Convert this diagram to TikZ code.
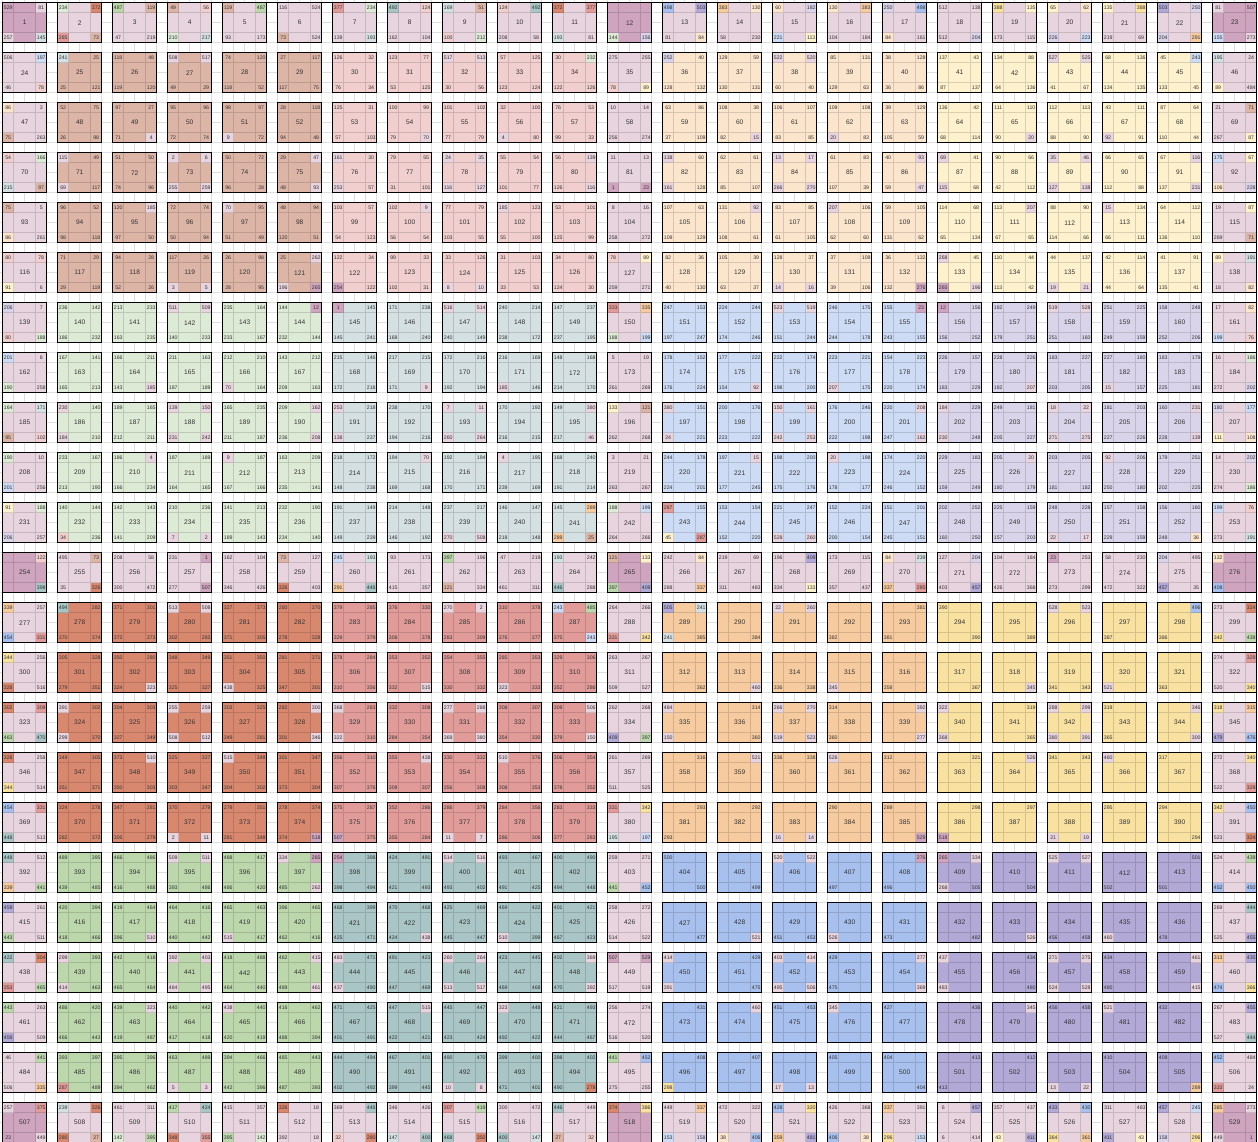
\documentclass[tikz,border=0pt]{standalone}
\usepackage{fontspec}
\setmainfont{Liberation Sans}
\definecolor{regP}{HTML}{E8D4DE}
\definecolor{regM}{HTML}{CFA4BF}
\definecolor{R00}{HTML}{DDB5A7}
\definecolor{R01}{HTML}{F0CFCE}
\definecolor{R02}{HTML}{FCE5CD}
\definecolor{R03}{HTML}{FEF2CE}
\definecolor{R10}{HTML}{DDEAD5}
\definecolor{R11}{HTML}{D5E0E3}
\definecolor{R12}{HTML}{CEDBF5}
\definecolor{R13}{HTML}{DAD4EA}
\definecolor{R20}{HTML}{D98870}
\definecolor{R21}{HTML}{E19C9A}
\definecolor{R22}{HTML}{F6CB9F}
\definecolor{R23}{HTML}{F9E1A1}
\definecolor{R30}{HTML}{BDD7AD}
\definecolor{R31}{HTML}{A9C5C6}
\definecolor{R32}{HTML}{A8C0EE}
\definecolor{R33}{HTML}{B2A9D6}
\tikzset{
  bggrid/.style={draw=black!13, line width=0.5pt},
  innerline/.style={draw=black, draw opacity=0.14, line width=0.6pt},
  boxline/.style={draw=black, line width=1.1pt},
  centernum/.style={inner sep=0pt, font=\fontsize{6.6}{7}\selectfont, text=black!80},
  cornum/.style={inner sep=0pt, font=\fontsize{5.2}{6}\selectfont, text=black!80},
}
\newcommand\D[5]{\expandafter\def\csname cd-#1\endcsname{{#2}{#3}{#4}{#5}}}
\newcommand\grp[1]{\ifcase\numexpr#1\relax 9\or 0\or 0\or 0\or 0\or 0\or 1\or 1\or 1\or 1\or 1\or 9\or 2\or 2\or 2\or 2\or 2\or 3\or 3\or 3\or 3\or 3\or 9\else 9\fi}
\newcommand\getcol[1]{%
  \pgfmathtruncatemacro\qr{div(#1-1,23)}%
  \pgfmathtruncatemacro\qc{mod(#1-1,23)}%
  \edef\gr{\grp{\qr}}\edef\gc{\grp{\qc}}%
  \ifnum\gr=9 \ifnum\gc=9 \def\result{regM}\else\def\result{regP}\fi
  \else\ifnum\gc=9 \def\result{regP}\else\edef\result{R\gr\gc}\fi\fi}
\def\getcorners#1#2#3#4{\def\ctl{#1}\def\ctr{#2}\def\cbl{#3}\def\cbr{#4}}
\newcommand\cornerfill[3]{\ifx#1\empty\else\getcol{#1}\fill[\result] (#2,#3) rectangle ++(11,10);\fi}
\newcommand\cornertext[4]{\ifx#1\empty\else\node[cornum] (#4) at (#2,#3) {#1};\fi}
\newcommand\drawcell[1]{%
  \pgfmathtruncatemacro\cellr{div(#1-1,23)}%
  \pgfmathtruncatemacro\cellc{mod(#1-1,23)}%
  \getcol{#1}\let\bgcol\result
  \expandafter\expandafter\expandafter\getcorners\csname cd-#1\endcsname
  \begin{scope}[shift={(2.7+55*\cellc,2.7+50*\cellr)}]
    \fill[\bgcol] (0,0) rectangle (44,40);
    \cornerfill{\ctl}{0}{0}
    \cornerfill{\ctr}{33}{0}
    \cornerfill{\cbl}{0}{30}
    \cornerfill{\cbr}{33}{30}
    \draw[innerline] (11,0)--(11,40) (33,0)--(33,40) (0,10)--(44,10) (0,30)--(44,30);
    \draw[boxline] (0,0) rectangle (44,40);
    \node[centernum] (n#1) at (22,20) {#1};
    \cornertext{\ctl}{5.5}{5}{n#1tl}
    \cornertext{\ctr}{38.5}{5}{n#1tr}
    \cornertext{\cbl}{5.5}{35}{n#1bl}
    \cornertext{\cbr}{38.5}{35}{n#1br}
  \end{scope}}
% data: n, top-left, top-right, bottom-left, bottom-right
\D{1}{529}{81}{257}{145}
\D{2}{234}{372}{285}{73}
\D{3}{487}{119}{47}{219}
\D{4}{49}{56}{210}{217}
\D{5}{119}{487}{93}{173}
\D{6}{116}{524}{73}{524}
\D{7}{377}{234}{139}{193}
\D{8}{492}{124}{162}{104}
\D{9}{169}{51}{100}{212}
\D{10}{124}{492}{208}{58}
\D{11}{372}{377}{193}{81}
\D{12}{}{}{144}{156}
\D{13}{498}{503}{81}{84}
\D{14}{383}{130}{58}{230}
\D{15}{60}{182}{221}{113}
\D{16}{130}{383}{104}{184}
\D{17}{250}{498}{84}{161}
\D{18}{512}{138}{512}{204}
\D{19}{388}{135}{173}{115}
\D{20}{65}{62}{226}{223}
\D{21}{135}{388}{219}{69}
\D{22}{503}{250}{204}{291}
\D{23}{81}{507}{155}{273}
\D{24}{506}{197}{46}{78}
\D{25}{241}{25}{25}{121}
\D{26}{118}{48}{119}{120}
\D{27}{508}{517}{49}{29}
\D{28}{74}{120}{118}{52}
\D{29}{27}{117}{117}{75}
\D{30}{126}{32}{76}{34}
\D{31}{123}{77}{53}{125}
\D{32}{517}{513}{30}{56}
\D{33}{57}{125}{123}{124}
\D{34}{30}{232}{122}{126}
\D{35}{275}{255}{78}{89}
\D{36}{252}{40}{128}{132}
\D{37}{129}{59}{130}{131}
\D{38}{522}{520}{60}{40}
\D{39}{85}{131}{129}{63}
\D{40}{38}{128}{36}{86}
\D{41}{137}{43}{87}{137}
\D{42}{134}{88}{64}{136}
\D{43}{527}{525}{41}{67}
\D{44}{68}{136}{134}{135}
\D{45}{45}{243}{133}{45}
\D{46}{195}{24}{89}{484}
\D{47}{86}{3}{75}{263}
\D{48}{52}{75}{26}{98}
\D{49}{97}{27}{71}{4}
\D{50}{95}{96}{72}{74}
\D{51}{98}{97}{9}{72}
\D{52}{28}{118}{94}{48}
\D{53}{125}{31}{57}{103}
\D{54}{100}{99}{79}{70}
\D{55}{101}{102}{77}{79}
\D{56}{32}{100}{4}{80}
\D{57}{76}{53}{99}{33}
\D{58}{10}{14}{256}{274}
\D{59}{63}{86}{37}{109}
\D{60}{108}{38}{82}{15}
\D{61}{106}{107}{83}{85}
\D{62}{109}{108}{20}{83}
\D{63}{39}{129}{105}{59}
\D{64}{136}{42}{68}{114}
\D{65}{111}{110}{90}{20}
\D{66}{112}{113}{88}{90}
\D{67}{43}{111}{92}{91}
\D{68}{87}{64}{110}{44}
\D{69}{21}{71}{267}{87}
\D{70}{54}{166}{215}{97}
\D{71}{115}{49}{69}{117}
\D{72}{51}{50}{74}{96}
\D{73}{2}{6}{255}{259}
\D{74}{50}{72}{96}{28}
\D{75}{29}{47}{48}{93}
\D{76}{161}{30}{253}{57}
\D{77}{79}{55}{31}{101}
\D{78}{24}{35}{116}{127}
\D{79}{55}{54}{101}{77}
\D{80}{56}{139}{126}{116}
\D{81}{11}{13}{1}{23}
\D{82}{138}{60}{161}{128}
\D{83}{62}{61}{85}{107}
\D{84}{13}{17}{266}{270}
\D{85}{61}{83}{107}{39}
\D{86}{40}{93}{59}{47}
\D{87}{69}{41}{115}{68}
\D{88}{90}{66}{42}{112}
\D{89}{35}{46}{127}{138}
\D{90}{66}{65}{112}{88}
\D{91}{67}{116}{137}{231}
\D{92}{175}{67}{106}{228}
\D{93}{75}{5}{86}{261}
\D{94}{96}{52}{98}{118}
\D{95}{120}{185}{97}{50}
\D{96}{72}{74}{50}{94}
\D{97}{70}{95}{51}{49}
\D{98}{48}{94}{120}{51}
\D{99}{103}{57}{54}{123}
\D{100}{102}{9}{56}{54}
\D{101}{77}{79}{103}{55}
\D{102}{185}{123}{55}{100}
\D{103}{53}{101}{125}{99}
\D{104}{8}{16}{258}{272}
\D{105}{107}{63}{109}{129}
\D{106}{131}{92}{108}{61}
\D{107}{83}{85}{61}{105}
\D{108}{207}{106}{62}{60}
\D{109}{59}{105}{131}{62}
\D{110}{114}{68}{65}{134}
\D{111}{113}{207}{67}{65}
\D{112}{88}{90}{114}{66}
\D{113}{15}{134}{66}{111}
\D{114}{64}{112}{136}{110}
\D{115}{19}{87}{269}{71}
\D{116}{80}{78}{91}{6}
\D{117}{71}{29}{29}{119}
\D{118}{94}{28}{52}{26}
\D{119}{117}{26}{3}{5}
\D{120}{26}{98}{28}{95}
\D{121}{25}{262}{196}{265}
\D{122}{122}{34}{254}{122}
\D{123}{99}{33}{102}{31}
\D{124}{33}{126}{8}{10}
\D{125}{31}{103}{33}{53}
\D{126}{34}{80}{124}{30}
\D{127}{78}{89}{259}{271}
\D{128}{82}{36}{40}{130}
\D{129}{105}{39}{63}{37}
\D{130}{128}{37}{14}{16}
\D{131}{37}{109}{39}{106}
\D{132}{36}{132}{132}{276}
\D{133}{268}{45}{265}{196}
\D{134}{110}{44}{113}{42}
\D{135}{44}{137}{19}{21}
\D{136}{42}{114}{44}{64}
\D{137}{41}{91}{135}{41}
\D{138}{89}{191}{18}{82}
\D{139}{206}{7}{80}{188}
\D{140}{236}{142}{186}{232}
\D{141}{213}{233}{163}{235}
\D{142}{511}{509}{140}{233}
\D{143}{235}{164}{233}{167}
\D{144}{144}{12}{232}{144}
\D{145}{1}{145}{145}{241}
\D{146}{171}{238}{168}{240}
\D{147}{516}{514}{240}{149}
\D{148}{240}{214}{238}{172}
\D{149}{147}{237}{237}{195}
\D{150}{333}{335}{188}{199}
\D{151}{247}{153}{197}{247}
\D{152}{224}{244}{174}{246}
\D{153}{523}{519}{151}{244}
\D{154}{246}{175}{244}{178}
\D{155}{155}{23}{243}{155}
\D{156}{12}{156}{156}{252}
\D{157}{182}{249}{179}{251}
\D{158}{519}{528}{251}{160}
\D{159}{251}{225}{249}{159}
\D{160}{158}{248}{252}{206}
\D{161}{17}{82}{199}{76}
\D{162}{201}{8}{190}{258}
\D{163}{167}{141}{165}{213}
\D{164}{166}{211}{143}{185}
\D{165}{211}{163}{187}{189}
\D{166}{212}{210}{70}{164}
\D{167}{143}{212}{209}{163}
\D{168}{215}{146}{172}{218}
\D{169}{217}{215}{171}{9}
\D{170}{172}{216}{192}{194}
\D{171}{216}{169}{185}{146}
\D{172}{148}{168}{214}{170}
\D{173}{5}{19}{261}{269}
\D{174}{178}{152}{176}{224}
\D{175}{177}{222}{154}{92}
\D{176}{222}{174}{198}{200}
\D{177}{223}{221}{207}{175}
\D{178}{154}{223}{220}{174}
\D{179}{226}{157}{183}{229}
\D{180}{228}{226}{182}{207}
\D{181}{183}{227}{203}{205}
\D{182}{227}{180}{15}{157}
\D{183}{183}{179}{225}{181}
\D{184}{16}{186}{272}{202}
\D{185}{164}{171}{95}{102}
\D{186}{230}{140}{184}{210}
\D{187}{189}{165}{212}{211}
\D{188}{139}{150}{231}{242}
\D{189}{165}{235}{211}{187}
\D{190}{209}{162}{236}{208}
\D{191}{253}{218}{138}{237}
\D{192}{238}{170}{194}{216}
\D{193}{7}{11}{260}{264}
\D{194}{170}{192}{216}{215}
\D{195}{149}{380}{217}{46}
\D{196}{133}{121}{262}{268}
\D{197}{380}{151}{24}{221}
\D{198}{200}{176}{223}{222}
\D{199}{150}{161}{242}{253}
\D{200}{176}{246}{222}{198}
\D{201}{220}{208}{247}{162}
\D{202}{184}{229}{230}{248}
\D{203}{249}{181}{205}{227}
\D{204}{18}{22}{271}{275}
\D{205}{181}{203}{227}{226}
\D{206}{160}{231}{228}{139}
\D{207}{180}{177}{111}{108}
\D{208}{190}{10}{201}{256}
\D{209}{233}{167}{213}{190}
\D{210}{186}{4}{166}{234}
\D{211}{187}{189}{164}{165}
\D{212}{9}{187}{167}{166}
\D{213}{163}{209}{235}{141}
\D{214}{218}{172}{148}{238}
\D{215}{194}{70}{169}{168}
\D{216}{192}{194}{170}{171}
\D{217}{4}{195}{239}{169}
\D{218}{168}{240}{191}{214}
\D{219}{3}{21}{263}{267}
\D{220}{244}{178}{224}{201}
\D{221}{197}{15}{177}{245}
\D{222}{198}{200}{175}{176}
\D{223}{20}{198}{178}{177}
\D{224}{174}{220}{246}{152}
\D{225}{229}{183}{159}{249}
\D{226}{205}{20}{180}{179}
\D{227}{203}{205}{181}{182}
\D{228}{92}{206}{250}{180}
\D{229}{179}{251}{202}{225}
\D{230}{14}{202}{274}{186}
\D{231}{91}{188}{206}{257}
\D{232}{140}{144}{34}{236}
\D{233}{142}{143}{141}{209}
\D{234}{210}{236}{7}{2}
\D{235}{141}{213}{189}{143}
\D{236}{232}{190}{234}{140}
\D{237}{191}{149}{149}{239}
\D{238}{214}{148}{146}{192}
\D{239}{237}{217}{270}{508}
\D{240}{146}{147}{218}{148}
\D{241}{145}{289}{289}{25}
\D{242}{188}{199}{264}{266}
\D{243}{287}{155}{45}{287}
\D{244}{153}{154}{152}{220}
\D{245}{221}{247}{528}{260}
\D{246}{152}{224}{200}{154}
\D{247}{151}{201}{245}{151}
\D{248}{202}{252}{160}{250}
\D{249}{225}{159}{157}{203}
\D{250}{248}{228}{22}{17}
\D{251}{157}{158}{229}{159}
\D{252}{156}{160}{248}{36}
\D{253}{199}{76}{273}{191}
\D{254}{}{122}{}{398}
\D{255}{495}{73}{35}{326}
\D{256}{208}{58}{300}{472}
\D{257}{231}{1}{277}{507}
\D{258}{162}{104}{346}{426}
\D{259}{73}{127}{326}{403}
\D{260}{245}{193}{291}{446}
\D{261}{93}{173}{415}{357}
\D{262}{397}{196}{121}{334}
\D{263}{47}{219}{461}{311}
\D{264}{193}{242}{446}{288}
\D{265}{121}{133}{397}{409}
\D{266}{242}{84}{288}{337}
\D{267}{219}{69}{311}{483}
\D{268}{196}{409}{334}{133}
\D{269}{173}{115}{357}{437}
\D{270}{84}{239}{337}{285}
\D{271}{127}{204}{403}{457}
\D{272}{104}{184}{426}{368}
\D{273}{23}{253}{273}{299}
\D{274}{58}{230}{472}{322}
\D{275}{204}{495}{457}{35}
\D{276}{132}{}{408}{}
\D{277}{339}{257}{454}{331}
\D{278}{494}{282}{370}{374}
\D{279}{371}{301}{372}{373}
\D{280}{513}{508}{302}{282}
\D{281}{327}{373}{371}{305}
\D{282}{280}{370}{278}{328}
\D{283}{379}{285}{329}{379}
\D{284}{376}{330}{306}{378}
\D{285}{270}{2}{283}{309}
\D{286}{310}{378}{376}{377}
\D{287}{243}{485}{375}{243}
\D{288}{264}{266}{331}{342}
\D{289}{505}{241}{241}{385}
\D{290}{}{}{}{384}
\D{291}{22}{260}{}{}
\D{292}{}{}{382}{}
\D{293}{}{381}{381}{}
\D{294}{390}{}{}{390}
\D{295}{}{}{}{389}
\D{296}{528}{523}{}{}
\D{297}{}{}{387}{}
\D{298}{}{496}{386}{}
\D{299}{273}{324}{342}{439}
\D{300}{344}{256}{328}{516}
\D{301}{305}{328}{279}{351}
\D{302}{350}{280}{324}{323}
\D{303}{348}{349}{325}{327}
\D{304}{351}{350}{438}{325}
\D{305}{281}{371}{347}{301}
\D{306}{378}{284}{310}{356}
\D{307}{353}{352}{332}{515}
\D{308}{354}{355}{330}{332}
\D{309}{285}{353}{323}{333}
\D{310}{329}{306}{352}{286}
\D{311}{263}{267}{509}{527}
\D{312}{}{}{}{362}
\D{313}{}{}{}{460}
\D{314}{}{}{336}{338}
\D{315}{}{}{345}{}
\D{316}{}{}{358}{}
\D{317}{}{}{}{367}
\D{318}{}{}{}{345}
\D{319}{}{}{341}{343}
\D{320}{}{}{521}{}
\D{321}{}{}{363}{}
\D{322}{274}{329}{520}{340}
\D{323}{302}{309}{463}{470}
\D{324}{391}{302}{299}{370}
\D{325}{304}{303}{327}{349}
\D{326}{255}{259}{508}{512}
\D{327}{303}{325}{349}{281}
\D{328}{282}{300}{301}{346}
\D{329}{368}{283}{322}{310}
\D{330}{332}{308}{284}{354}
\D{331}{277}{288}{369}{380}
\D{332}{308}{307}{354}{330}
\D{333}{309}{506}{379}{150}
\D{334}{262}{268}{409}{397}
\D{335}{484}{}{150}{}
\D{336}{}{314}{}{360}
\D{337}{266}{270}{519}{523}
\D{338}{314}{}{360}{}
\D{339}{}{392}{}{277}
\D{340}{322}{}{368}{}
\D{341}{}{319}{}{365}
\D{342}{288}{299}{380}{391}
\D{343}{319}{}{365}{}
\D{344}{}{346}{}{300}
\D{345}{318}{315}{479}{476}
\D{346}{328}{258}{344}{514}
\D{347}{349}{305}{351}{371}
\D{348}{373}{510}{350}{303}
\D{349}{325}{327}{303}{347}
\D{350}{515}{348}{304}{302}
\D{351}{301}{347}{373}{304}
\D{352}{356}{310}{307}{376}
\D{353}{355}{438}{309}{307}
\D{354}{330}{332}{356}{308}
\D{355}{510}{376}{308}{353}
\D{356}{306}{354}{378}{352}
\D{357}{261}{269}{511}{525}
\D{358}{}{316}{}{}
\D{359}{}{521}{}{}
\D{360}{336}{338}{}{}
\D{361}{526}{}{}{}
\D{362}{312}{}{}{}
\D{363}{}{321}{}{}
\D{364}{}{526}{}{}
\D{365}{341}{343}{}{}
\D{366}{460}{}{}{}
\D{367}{317}{}{}{}
\D{368}{272}{340}{522}{329}
\D{369}{454}{331}{448}{513}
\D{370}{324}{278}{282}{372}
\D{371}{347}{281}{305}{279}
\D{372}{370}{279}{2}{11}
\D{373}{279}{351}{281}{348}
\D{374}{278}{374}{374}{518}
\D{375}{375}{287}{507}{375}
\D{376}{352}{286}{355}{284}
\D{377}{286}{379}{11}{7}
\D{378}{284}{356}{286}{306}
\D{379}{283}{333}{377}{283}
\D{380}{331}{342}{195}{197}
\D{381}{}{293}{293}{}
\D{382}{}{292}{}{}
\D{383}{}{}{16}{14}
\D{384}{290}{}{}{}
\D{385}{289}{}{}{529}
\D{386}{}{298}{518}{}
\D{387}{}{297}{}{}
\D{388}{}{}{21}{19}
\D{389}{295}{}{}{}
\D{390}{294}{}{}{294}
\D{391}{342}{450}{523}{324}
\D{392}{448}{512}{339}{441}
\D{393}{489}{395}{439}{485}
\D{394}{466}{486}{416}{488}
\D{395}{509}{511}{393}{486}
\D{396}{488}{417}{486}{420}
\D{397}{334}{265}{485}{262}
\D{398}{254}{398}{398}{494}
\D{399}{424}{491}{421}{493}
\D{400}{514}{516}{493}{402}
\D{401}{493}{467}{491}{425}
\D{402}{400}{490}{494}{448}
\D{403}{259}{271}{441}{452}
\D{404}{500}{}{}{500}
\D{405}{}{}{}{499}
\D{406}{520}{522}{}{}
\D{407}{}{}{497}{}
\D{408}{}{276}{496}{}
\D{409}{265}{334}{268}{505}
\D{410}{}{}{}{504}
\D{411}{525}{527}{}{}
\D{412}{}{}{502}{}
\D{413}{}{501}{501}{}
\D{414}{524}{439}{452}{450}
\D{415}{459}{261}{443}{511}
\D{416}{420}{394}{418}{466}
\D{417}{419}{464}{396}{510}
\D{418}{464}{416}{440}{442}
\D{419}{465}{463}{515}{417}
\D{420}{396}{465}{462}{416}
\D{421}{468}{399}{425}{471}
\D{422}{470}{468}{424}{438}
\D{423}{425}{469}{445}{447}
\D{424}{469}{422}{510}{399}
\D{425}{401}{421}{467}{423}
\D{426}{258}{272}{514}{522}
\D{427}{}{}{}{477}
\D{428}{}{}{}{521}
\D{429}{}{}{451}{453}
\D{430}{}{}{526}{}
\D{431}{}{}{473}{}
\D{432}{}{}{}{482}
\D{433}{}{}{}{526}
\D{434}{}{}{456}{458}
\D{435}{}{}{460}{}
\D{436}{}{}{478}{}
\D{437}{269}{444}{525}{455}
\D{438}{422}{304}{353}{465}
\D{439}{299}{393}{414}{463}
\D{440}{442}{418}{465}{464}
\D{441}{392}{403}{484}{495}
\D{442}{418}{488}{464}{440}
\D{443}{462}{415}{489}{461}
\D{444}{483}{471}{437}{490}
\D{445}{491}{423}{447}{469}
\D{446}{260}{264}{513}{517}
\D{447}{423}{445}{469}{468}
\D{448}{402}{369}{470}{392}
\D{449}{507}{529}{517}{519}
\D{450}{414}{}{391}{}
\D{451}{}{429}{}{475}
\D{452}{403}{414}{495}{506}
\D{453}{429}{}{475}{}
\D{454}{}{277}{}{369}
\D{455}{437}{}{483}{}
\D{456}{}{434}{}{480}
\D{457}{271}{275}{524}{528}
\D{458}{434}{}{480}{}
\D{459}{}{461}{}{415}
\D{460}{313}{435}{474}{366}
\D{461}{443}{263}{459}{509}
\D{462}{486}{420}{466}{443}
\D{463}{439}{323}{419}{487}
\D{464}{440}{442}{417}{418}
\D{465}{438}{440}{420}{419}
\D{466}{416}{462}{488}{394}
\D{467}{471}{425}{401}{491}
\D{468}{447}{515}{422}{421}
\D{469}{445}{447}{423}{424}
\D{470}{323}{448}{492}{422}
\D{471}{421}{493}{444}{467}
\D{472}{256}{274}{516}{520}
\D{473}{}{431}{}{}
\D{474}{}{460}{}{}
\D{475}{451}{453}{}{}
\D{476}{345}{}{}{}
\D{477}{427}{}{}{}
\D{478}{}{436}{}{}
\D{479}{}{345}{}{}
\D{480}{456}{458}{}{}
\D{481}{521}{}{}{}
\D{482}{432}{}{}{}
\D{483}{267}{455}{527}{444}
\D{484}{46}{441}{506}{335}
\D{485}{393}{397}{287}{489}
\D{486}{395}{396}{394}{462}
\D{487}{463}{489}{5}{3}
\D{488}{394}{466}{442}{396}
\D{489}{485}{443}{487}{393}
\D{490}{444}{494}{402}{492}
\D{491}{467}{401}{399}{445}
\D{492}{490}{470}{10}{8}
\D{493}{399}{400}{471}{401}
\D{494}{398}{402}{490}{278}
\D{495}{441}{452}{275}{255}
\D{496}{}{408}{298}{}
\D{497}{}{407}{}{}
\D{498}{}{}{17}{13}
\D{499}{405}{}{}{}
\D{500}{404}{}{}{404}
\D{501}{}{413}{413}{}
\D{502}{}{412}{}{}
\D{503}{}{}{13}{22}
\D{504}{410}{}{}{}
\D{505}{409}{}{}{289}
\D{506}{452}{484}{333}{24}
\D{507}{257}{375}{23}{449}
\D{508}{239}{326}{280}{27}
\D{509}{461}{311}{142}{395}
\D{510}{417}{424}{348}{355}
\D{511}{415}{357}{395}{142}
\D{512}{326}{18}{392}{18}
\D{513}{369}{446}{32}{280}
\D{514}{346}{426}{147}{400}
\D{515}{307}{419}{468}{350}
\D{516}{300}{472}{400}{147}
\D{517}{446}{449}{27}{32}
\D{518}{374}{386}{}{}
\D{519}{449}{337}{153}{158}
\D{520}{472}{322}{38}{406}
\D{521}{428}{320}{359}{481}
\D{522}{426}{368}{406}{38}
\D{523}{337}{391}{296}{153}
\D{524}{6}{457}{6}{414}
\D{525}{357}{437}{43}{411}
\D{526}{433}{430}{364}{361}
\D{527}{311}{483}{411}{43}
\D{528}{457}{245}{158}{296}
\D{529}{385}{273}{449}{1}
\begin{document}
\begin{tikzpicture}[x=1pt,y=-1pt]
\useasboundingbox (0,0) rectangle (1258,1142);
\fill[white] (0,0) rectangle (1258,1142);
\foreach \k in {0,...,114}{\draw[bggrid] (2.7+11*\k,0) -- (2.7+11*\k,1142);}
\foreach \k in {0,...,113}{\draw[bggrid] (0,2.7+10*\k) -- (1258,2.7+10*\k);}
\foreach \n in {1,...,529}{\drawcell{\n}}
\draw[boxline] (2.7,2.7) rectangle (1256.7,1142.7);
\end{tikzpicture}
\end{document}
